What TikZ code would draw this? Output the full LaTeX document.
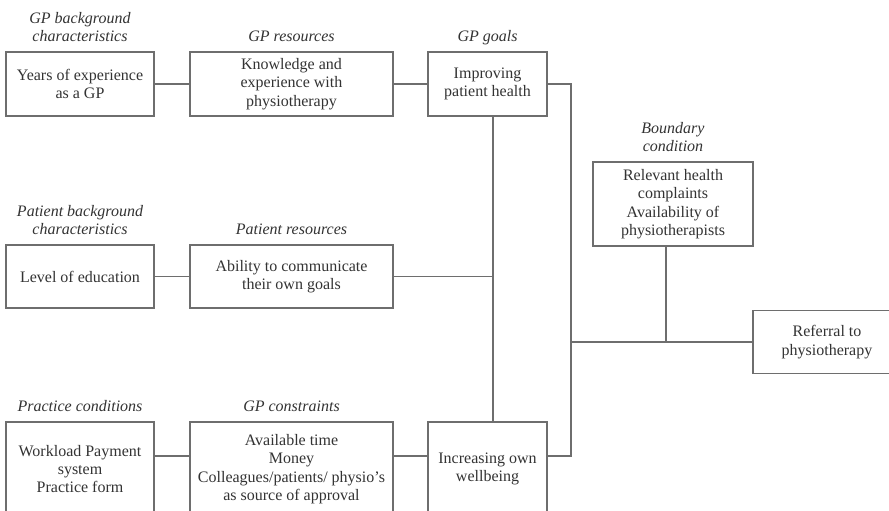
\documentclass[tikz,border=0pt]{standalone}
\usepackage{fontspec}
\setmainfont{Liberation Serif}
\usetikzlibrary{positioning}

\definecolor{linegray}{HTML}{6E6E6E}
\definecolor{inkgray}{HTML}{333333}

\tikzset{
	factor/.style={draw=linegray, line width=1.1pt, text=inkgray, align=center, inner sep=0pt, font=\fontsize{16}{18.4}\selectfont},
	heading/.style={text=inkgray, align=center, inner sep=0pt, text depth=3.5pt, font=\fontsize{16}{18.4}\selectfont\itshape},
	link/.style={draw=linegray, line width=1.1pt}
}

\begin{document}
\begin{tikzpicture}[x=1pt, y=-1pt]
	\useasboundingbox (0,0) rectangle (889,511);
	\fill[white] (0,0) rectangle (889,511);
	\clip (0,0) rectangle (889,511);
	
	% GP row
	\node[factor, minimum width=148pt, minimum height=64pt] (years) at (80,84) {Years of experience\\as a GP};
	\node[factor, minimum width=203pt, minimum height=64pt] (knowledge) at (291.5,84) {Knowledge and\\experience with\\physiotherapy};
	\node[factor, minimum width=119pt, minimum height=64pt] (improving) at (487.5,84) {Improving\\patient health};
	
	% patient row
	\node[factor, minimum width=148pt, minimum height=63pt] (education) at (80,276.5) {Level of education};
	\node[factor, minimum width=203pt, minimum height=63pt] (ability) at (291.5,276.5) {Ability to communicate\\their own goals};
	
	% practice row
	\node[factor, minimum width=148pt, minimum height=94pt] (workload) at (80,469) {Workload Payment\\system\\Practice form};
	\node[factor, minimum width=203pt, minimum height=94pt] (constraints) at (291.5,469) {Available time\\Money\\Colleagues/patients/ physio's\\as source of approval};
	\node[factor, minimum width=119pt, minimum height=94pt] (increasing) at (487.5,469) {Increasing own\\wellbeing};
	
	% outcome
	\node[factor, minimum width=160pt, minimum height=84pt] (boundary) at (673,204) {Relevant health\\complaints\\Availability of\\physiotherapists};
	\node[factor, minimum width=148pt, minimum height=63pt] (referral) at (827,342) {Referral to\\physiotherapy};
	
	% headings
	\node[heading, above=6pt of years] (yearsHead) {GP background\\characteristics};
	\node[heading, above=6pt of knowledge] (knowledgeHead) {GP resources};
	\node[heading, above=6pt of improving] (improvingHead) {GP goals};
	\node[heading, above=6pt of education] (educationHead) {Patient background\\characteristics};
	\node[heading, above=6pt of ability] (abilityHead) {Patient resources};
	\node[heading, above=6pt of workload] (workloadHead) {Practice conditions};
	\node[heading, above=6pt of constraints] (constraintsHead) {GP constraints};
	\node[heading, above=6pt of boundary] (boundaryHead) {Boundary\\condition};
	
	% connectors
	\coordinate (spine) at ([xshift=5.5pt]improving.south);
	\coordinate (bus) at (571,342);
	
	\draw[link] (years.east) -- (knowledge.west);
	\draw[link] (knowledge.east) -- (improving.west);
	\draw[link] (education.east) -- (ability.west);
	\draw[link] ([yshift=13pt]workload.east) -- ([yshift=13pt]constraints.west);
	\draw[link] ([yshift=13pt]constraints.east) -- ([yshift=13pt]increasing.west);
	\draw[link] (spine) -- (spine |- increasing.north);
	\draw[link] (ability.east) -- (ability.east -| spine);
	\draw[link] (improving.east) -| (bus) |- ([yshift=13pt]increasing.east);
	\draw[link] (bus) -- (referral.west);
	\draw[link] ([xshift=-7pt]boundary.south) -- ([xshift=-7pt]boundary.south |- bus);
\end{tikzpicture}
\end{document}
